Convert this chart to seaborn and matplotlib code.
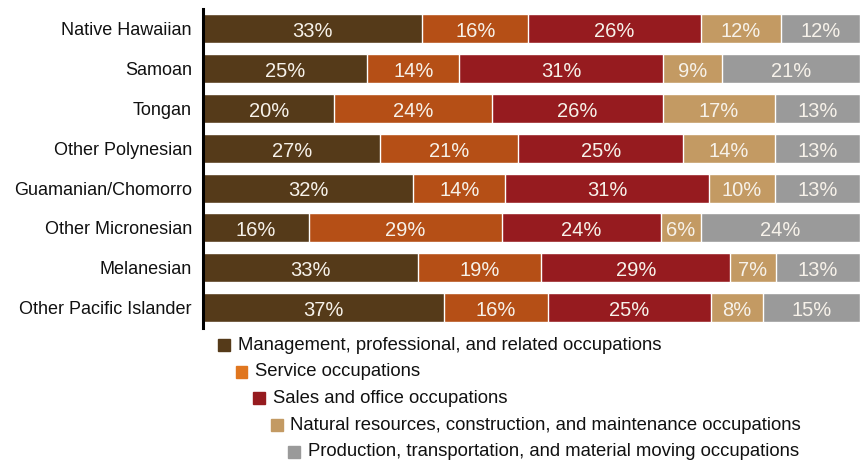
import numpy as np
import pandas as pd
import matplotlib
matplotlib.use('Agg')
import matplotlib.pyplot as plt
from matplotlib.patches import Rectangle
import seaborn as sns

groups = ['Native Hawaiian', 'Samoan', 'Tongan', 'Other Polynesian',
          'Guamanian/Chomorro', 'Other Micronesian', 'Melanesian', 'Other Pacific Islander']
management = [33, 25, 20, 27, 32, 16, 33, 37]
service = [16, 14, 24, 21, 14, 29, 19, 16]
sales = [26, 31, 26, 25, 31, 24, 29, 25]
natural = [12, 9, 17, 14, 10, 6, 7, 8]
production = [12, 21, 13, 13, 13, 24, 13, 15]

series_names = ['Management, professional, and related occupations',
                'Service occupations',
                'Sales and office occupations',
                'Natural resources, construction, and maintenance occupations',
                'Production, transportation, and material moving occupations']
bar_colors = ['#553a19', '#b54f16', '#961b1f', '#c39a63', '#9a9a9a']
legend_colors = ['#553a19', '#e0761f', '#961b1f', '#c39a63', '#9a9a9a']

sns.set_style('white')
plt.rcParams['font.family'] = ['Liberation Sans', 'DejaVu Sans']

vals = np.array([management, service, sales, natural, production], dtype=float)
shares = vals / vals.sum(axis=0) * 100
cum = np.cumsum(shares, axis=0)

fig = plt.figure(figsize=(8.62, 4.62), dpi=100)
ax = fig.add_axes([0.2355, 0.291, 0.7625, 0.69])

# draw cumulative totals from the outermost segment inwards
for i in range(4, -1, -1):
    df = pd.DataFrame({'group': groups, 'value': cum[i]})
    sns.barplot(data=df, x='value', y='group', orient='h', color=bar_colors[i],
                width=0.73, saturation=1, ax=ax)

for i in range(5):
    for j, g in enumerate(groups):
        center = cum[i, j] - shares[i, j] / 2
        ax.text(center, j + 0.02, f'{int(vals[i, j])}%', ha='center', va='center_baseline',
                color='#f7f2ea', fontsize=14.5)

ax.set_xlim(0, 100)
ax.set_ylim(7.5, -0.5)
ax.set_xlabel('')
ax.set_ylabel('')
ax.set_xticks([])
ax.tick_params(axis='y', length=0, labelsize=13, pad=8, labelcolor='#111111')
for s in ['top', 'right', 'bottom']:
    ax.spines[s].set_visible(False)
ax.spines['left'].set_linewidth(2.2)
ax.spines['left'].set_color('black')

# staggered legend
for k, name in enumerate(series_names):
    x0 = 218 + 17.5 * k
    yc = 345 + 26.7 * k
    fig.patches.append(Rectangle((x0 / 862, 1 - (yc + 6) / 462), 12 / 862, 12 / 462,
                                 transform=fig.transFigure, color=legend_colors[k]))
    fig.text((x0 + 20) / 862, 1 - yc / 462, name, ha='left', va='center',
             fontsize=13.3, color='#111111')

fig.savefig('out.png', dpi=100)
